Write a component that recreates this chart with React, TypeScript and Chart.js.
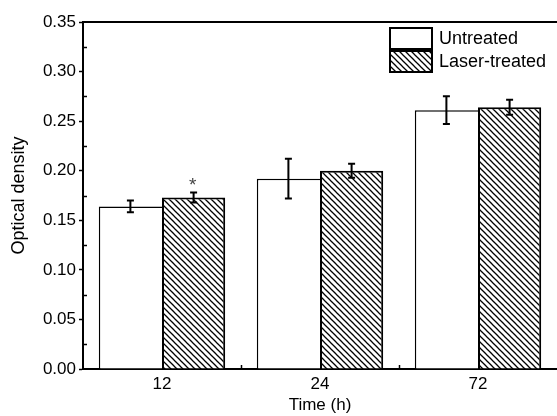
import React, { useEffect, useRef } from "react";
import { Chart, registerables } from "chart.js";

Chart.register(...registerables);

const categories = ["12", "24", "72"];
const seriesLabels = ["Untreated", "Laser-treated"];
const untreated = [0.164, 0.192, 0.261];
const untreatedErr = [0.006, 0.02, 0.014];
const laser = [0.173, 0.2, 0.264];
const laserErr = [0.005, 0.007, 0.0075];
const laserMarks = ["*", "", ""];
const yMin = 0;
const yMax = 0.35;
const yStep = 0.05;
const xTitle = "Time (h)";
const yTitle = "Optical density";

const FONT = "'Liberation Sans', Arial, Helvetica, sans-serif";

function makeHatch(): CanvasPattern | string {
  const s = 6;
  const c = document.createElement("canvas");
  c.width = s;
  c.height = s;
  const g = c.getContext("2d");
  if (!g) return "#888";
  g.fillStyle = "#fff";
  g.fillRect(0, 0, s, s);
  g.strokeStyle = "#000";
  g.lineWidth = 1.25;
  for (const k of [-s, 0, s]) {
    g.beginPath();
    g.moveTo(k - 1, -1);
    g.lineTo(k + s + 1, s + 1);
    g.stroke();
  }
  return g.createPattern(c, "repeat") || "#888";
}

const decorPlugin = {
  id: "decor",
  afterDatasetsDraw(chart: any) {
    const ctx: CanvasRenderingContext2D = chart.ctx;
    const { left, right, top, bottom } = chart.chartArea;
    const y = chart.scales.y;
    const x = chart.scales.x;
    ctx.save();
    ctx.strokeStyle = "#000";
    ctx.fillStyle = "#000";

    // error bars
    const errs = [untreatedErr, laserErr];
    const vals = [untreated, laser];
    ctx.lineWidth = 2;
    for (let d = 0; d < 2; d++) {
      const meta = chart.getDatasetMeta(d);
      meta.data.forEach((bar: any, i: number) => {
        const yHi = y.getPixelForValue(vals[d][i] + errs[d][i]);
        const yLo = y.getPixelForValue(vals[d][i] - errs[d][i]);
        const cx = bar.x;
        ctx.beginPath();
        ctx.moveTo(cx, yHi);
        ctx.lineTo(cx, yLo);
        ctx.moveTo(cx - 3.5, yHi);
        ctx.lineTo(cx + 3.5, yHi);
        ctx.moveTo(cx - 3.5, yLo);
        ctx.lineTo(cx + 3.5, yLo);
        ctx.stroke();
        if (d === 1 && laserMarks[i]) {
          ctx.save();
          ctx.fillStyle = "#444";
          ctx.font = `19px ${FONT}`;
          ctx.textAlign = "center";
          ctx.textBaseline = "middle";
          ctx.fillText(laserMarks[i], cx - 1, yHi - 7);
          ctx.restore();
        }
      });
    }

    // top frame line
    ctx.lineWidth = 2;
    ctx.beginPath();
    ctx.moveTo(left - 1, top);
    ctx.lineTo(right, top);
    ctx.stroke();

    // minor y ticks (inward)
    ctx.lineWidth = 1.5;
    for (let v = yMin + yStep / 2; v < yMax; v += yStep) {
      const py = Math.round(y.getPixelForValue(v)) + 0.5;
      ctx.beginPath();
      ctx.moveTo(left, py);
      ctx.lineTo(left + 4, py);
      ctx.stroke();
    }
    // minor x ticks between categories (inward)
    for (let i = 0; i < categories.length - 1; i++) {
      const px = Math.round((x.getPixelForValue(i) + x.getPixelForValue(i + 1)) / 2) + 0.5;
      ctx.beginPath();
      ctx.moveTo(px, bottom);
      ctx.lineTo(px, bottom - 4);
      ctx.stroke();
    }

    // legend
    const lx = right - 167;
    const ly = top + 6;
    const bw = 42;
    const bh = 21;
    const fills = [chart.data.datasets[0].backgroundColor, chart.data.datasets[1].backgroundColor];
    ctx.font = `18px ${FONT}`;
    ctx.textAlign = "left";
    ctx.textBaseline = "middle";
    seriesLabels.forEach((lab, i) => {
      const by = ly + i * (bh + 2);
      ctx.fillStyle = fills[i];
      ctx.fillRect(lx, by, bw, bh);
      ctx.lineWidth = 2;
      ctx.strokeStyle = "#000";
      ctx.strokeRect(lx, by, bw, bh);
      ctx.fillStyle = "#000";
      ctx.fillText(lab, lx + bw + 7, by + bh / 2 + 1);
    });
    ctx.restore();
  },
};

export default function App() {
  const ref = useRef<HTMLCanvasElement | null>(null);
  useEffect(() => {
    const canvas = ref.current;
    if (!canvas) return;
    const hatch = makeHatch();
    const yTickVals: number[] = [];
    for (let v = yMin; v <= yMax + 1e-9; v += yStep) yTickVals.push(+v.toFixed(2));
    const chart = new Chart(canvas, {
      type: "bar",
      data: {
        labels: categories,
        datasets: [
          {
            label: seriesLabels[0],
            data: untreated,
            backgroundColor: "#ffffff",
            borderColor: "#000000",
            borderWidth: { left: 1.5, top: 1.5, right: 0, bottom: 0 },
            borderSkipped: false,
          },
          {
            label: seriesLabels[1],
            data: laser,
            backgroundColor: hatch as any,
            borderColor: "#000000",
            borderWidth: { left: 2, top: 2, right: 2, bottom: 0 },
            borderSkipped: false,
          },
        ],
      },
      plugins: [decorPlugin],
      options: {
        animation: false,
        responsive: false,
        devicePixelRatio: 1,
        layout: { padding: { top: 22, right: 0, left: 0, bottom: 0 } },
        datasets: { bar: { categoryPercentage: 0.8, barPercentage: 1.0 } },
        plugins: { legend: { display: false }, tooltip: { enabled: false } },
        scales: {
          x: {
            type: "category",
            offset: true,
            grid: { display: true, drawOnChartArea: false, drawTicks: false, color: "#000" },
            border: { display: true, color: "#000", width: 2 },
            ticks: { color: "#000", padding: 5, font: { family: FONT, size: 17 } },
            title: {
              display: true,
              text: xTitle,
              color: "#000",
              font: { family: FONT, size: 17 },
              padding: { top: 0, bottom: 0 },
            },
            afterFit: (s: any) => {
              s.height = 47;
            },
          },
          y: {
            min: yMin,
            max: yMax,
            afterBuildTicks: (s: any) => {
              s.ticks = yTickVals.map((v) => ({ value: v }));
            },
            grid: {
              display: true,
              drawOnChartArea: false,
              drawTicks: true,
              tickLength: 4,
              tickWidth: 1.5,
              tickColor: "#000",
              color: "#000",
            },
            border: { display: true, color: "#000", width: 2 },
            ticks: {
              color: "#000",
              padding: 3,
              font: { family: FONT, size: 17 },
              callback: (v: any) => Number(v).toFixed(2),
            },
            title: {
              display: true,
              text: yTitle,
              color: "#000",
              font: { family: FONT, size: 18 },
              padding: { top: 8, bottom: 0 },
            },
            afterFit: (s: any) => {
              s.width = 83;
            },
          },
        },
      },
    } as any);
    return () => chart.destroy();
  }, []);
  return (
    <canvas
      ref={ref}
      width={557}
      height={416}
      style={{ position: "fixed", left: 0, top: 0, width: 557, height: 416, background: "#fff" }}
    />
  );
}
